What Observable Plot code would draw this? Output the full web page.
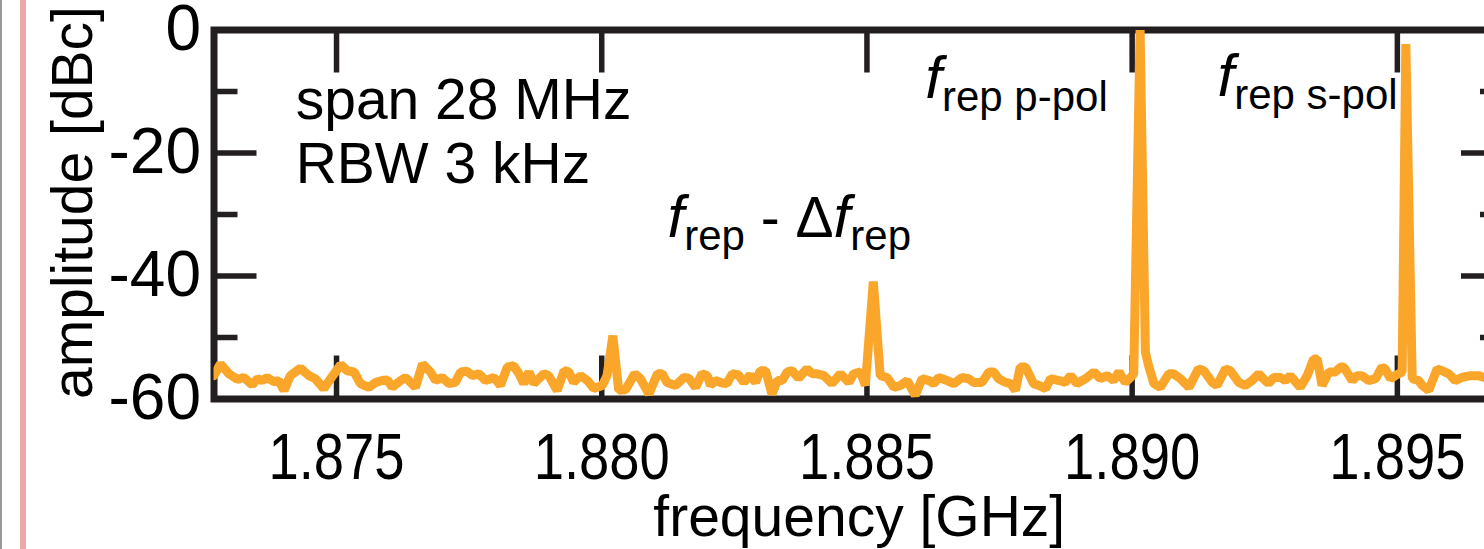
<!DOCTYPE html>
<html><head><meta charset="utf-8">
<script src="https://cdn.jsdelivr.net/npm/d3@7"></script>
<script src="https://cdn.jsdelivr.net/npm/@observablehq/plot@0.6"></script>
<style>
html,body{margin:0;padding:0;background:#fff;overflow:hidden;width:1484px;height:549px;}
#wrap{position:relative;width:1484px;height:549px;overflow:hidden;background:#fff;}
#chart{position:absolute;left:0;top:0;width:1560px;height:549px;}
#chart svg{max-width:none;}
.edge1{position:absolute;left:0;top:0;width:1.5px;height:549px;background:#9a9a9a;}
.edge2{position:absolute;left:20px;top:0;width:6px;height:549px;background:#eca8aa;}
</style></head>
<body><div id="wrap"><div id="chart"></div><div class="edge1"></div><div class="edge2"></div></div>
<script>
// spectrum trace (frequency in GHz, amplitude in dBc)
const freqGHz = [
1.87269,1.87281,1.87297,1.87313,1.87325,1.87341,1.87351,1.87360,1.87369,1.87382,
1.87391,1.87401,1.87413,1.87432,1.87448,1.87460,1.87476,1.87489,1.87508,1.87520,
1.87533,1.87545,1.87561,1.87574,1.87586,1.87596,1.87605,1.87621,1.87630,1.87649,
1.87662,1.87677,1.87687,1.87699,1.87712,1.87724,1.87734,1.87746,1.87756,1.87768,
1.87781,1.87797,1.87809,1.87822,1.87834,1.87844,1.87853,1.87863,1.87872,1.87891,
1.87900,1.87916,1.87929,1.87938,1.87947,1.87960,1.87973,1.87985,1.88001,1.88010,
1.88021,1.88032,1.88045,1.88062,1.88073,1.88089,1.88105,1.88114,1.88123,1.88139,
1.88155,1.88164,1.88177,1.88189,1.88199,1.88205,1.88214,1.88227,1.88236,1.88246,
1.88258,1.88268,1.88280,1.88290,1.88299,1.88309,1.88321,1.88331,1.88340,1.88350,
1.88359,1.88371,1.88387,1.88397,1.88406,1.88419,1.88434,1.88450,1.88466,1.88475,
1.88488,1.88497,1.88512,1.88525,1.88538,1.88551,1.88563,1.88576,1.88591,1.88604,
1.88617,1.88626,1.88635,1.88651,1.88664,1.88679,1.88692,1.88701,1.88717,1.88730,
1.88739,1.88748,1.88761,1.88771,1.88780,1.88789,1.88799,1.88814,1.88824,1.88837,
1.88846,1.88862,1.88874,1.88884,1.88896,1.88912,1.88928,1.88940,1.88953,1.88965,
1.88975,1.88987,1.88997,1.89003,1.89015,1.89025,1.89031,1.89041,1.89053,1.89069,
1.89078,1.89091,1.89107,1.89125,1.89135,1.89151,1.89160,1.89176,1.89185,1.89201,
1.89213,1.89226,1.89239,1.89245,1.89257,1.89267,1.89279,1.89289,1.89298,1.89317,
1.89330,1.89342,1.89349,1.89358,1.89371,1.89383,1.89393,1.89399,1.89415,1.89424,
1.89433,1.89446,1.89459,1.89471,1.89477,1.89487,1.89496,1.89509,1.89516,1.89528,
1.89540,1.89547,1.89559,1.89575,1.89584,1.89597,1.89609,1.89622,1.89638,1.89653,
1.89664,1.89679,1.89694
];
const ampDb = [
-56.2,-54.3,-55.9,-56.8,-56.5,-57.7,-56.7,-57.0,-56.5,-57.2,
-57.0,-58.6,-56.2,-55.0,-56.2,-56.7,-58.3,-56.7,-54.4,-55.4,
-55.6,-57.5,-58.1,-57.3,-57.0,-56.9,-58.1,-57.0,-56.5,-58.1,
-54.3,-55.6,-57.0,-56.5,-57.5,-57.3,-55.6,-55.5,-56.2,-55.9,
-57.0,-56.5,-57.8,-54.8,-54.6,-55.9,-57.5,-55.6,-57.5,-55.9,
-56.2,-58.6,-55.4,-55.6,-57.3,-56.2,-57.0,-58.3,-57.8,-56.2,
-49.7,-58.6,-58.5,-55.9,-56.7,-59.2,-55.9,-55.9,-57.3,-57.8,
-56.5,-56.6,-58.1,-55.9,-56.2,-57.8,-57.0,-57.4,-57.5,-55.9,
-56.1,-57.3,-56.1,-57.3,-55.4,-55.4,-59.2,-57.0,-57.0,-55.6,
-55.4,-56.6,-55.1,-55.9,-55.9,-56.2,-57.5,-55.9,-57.3,-55.9,
-55.6,-57.8,-40.9,-56.2,-56.5,-58.1,-57.8,-57.0,-59.4,-56.7,
-57.0,-57.5,-56.5,-57.0,-57.5,-56.5,-56.7,-57.3,-57.3,-55.6,
-55.6,-56.7,-57.3,-57.5,-58.6,-54.8,-54.8,-57.5,-57.8,-58.3,
-56.7,-57.0,-57.3,-56.2,-57.5,-56.7,-55.6,-56.7,-56.2,-57.0,
-55.6,-57.3,-56.5,-55.9,0,-52.4,-54.6,-57.5,-58.1,-55.9,
-55.9,-56.7,-58.1,-55.1,-55.4,-57.3,-57.8,-55.1,-55.4,-57.3,
-57.8,-57.0,-55.9,-56.5,-57.5,-56.5,-56.5,-57.0,-56.2,-58.1,
-56.2,-53.5,-53.5,-57.8,-55.6,-55.6,-54.8,-54.8,-57.0,-56.2,
-56.2,-57.0,-56.7,-54.8,-55.1,-56.7,-56.2,-55.6,-2.3,-56.7,
-57.0,-57.8,-58.6,-55.1,-55.4,-55.9,-57.0,-56.5,-56.2,-56.2,
-56.5,-56.7,-56.3
];
const xDomain = [1.87269, 1.89702];
const yDomain = [-60, 0];
const xTicks = [1.875, 1.880, 1.885, 1.890, 1.895];
const xTickLabels = ["1.875", "1.880", "1.885", "1.890", "1.895"];
const yMajor = [0, -20, -40, -60];
const yMinor = [-10, -30, -50];
const yTickLabels = ["0", "-20", "-40", "-60"];
const infoLines = [
  {x: 1.87423, y: -14.4, text: "span 28 MHz"},
  {x: 1.87423, y: -24.8, text: "RBW 3 kHz"}
];
// peak labels: [piece, kind] with kind i = italic symbol, s = subscript, n = normal
const peakLabels = [
  {x: 1.88124, y: -33.6, parts: [["f","i"],["rep","s"],[" - \u0394","n"],["f","i"],["rep","s"]]},
  {x: 1.88610, y: -11.0, parts: [["f","i"],["rep p-pol","s"]]},
  {x: 1.89161, y: -10.8, parts: [["f","i"],["rep s-pol","s"]]}
];
const xLabel = "frequency [GHz]";
const yLabel = "amplitude [dBc]";

const spectrum = freqGHz.map((f, i) => ({f, a: ampDb[i]}));

const W = 1560, H = 549;
const mL = 213.5, mT = 29.5, mR = W - 1504, mB = H - 398.5;
const plotW = W - mL - mR, plotH = H - mT - mB;
const ink = "#231f20";
const orange = "#f9a62b";
const majorLen = 43, minorLen = 24, tickW = 5.5;
const FS = 57, TFS = 64;
const FONT = "'Liberation Sans', Arial, Helvetica, sans-serif";

const chart = Plot.plot({
  width: W, height: H,
  marginLeft: mL, marginTop: mT, marginRight: mR, marginBottom: mB,
  x: {domain: xDomain, axis: null},
  y: {domain: yDomain, axis: null},
  style: {fontFamily: FONT, background: "#fff", color: "#000"},
  marks: [
    Plot.ruleX(xTicks, {x: d => d, insetTop: plotH - majorLen, stroke: ink, strokeWidth: tickW}),
    Plot.ruleX(xTicks, {x: d => d, insetBottom: plotH - majorLen, stroke: ink, strokeWidth: tickW}),
    Plot.ruleY(yMajor, {y: d => d, insetRight: plotW - majorLen, stroke: ink, strokeWidth: tickW}),
    Plot.ruleY(yMinor, {y: d => d, insetRight: plotW - minorLen, stroke: ink, strokeWidth: tickW}),
    Plot.ruleY(yMajor, {y: d => d, insetLeft: plotW - majorLen, stroke: ink, strokeWidth: tickW}),
    Plot.ruleY(yMinor, {y: d => d, insetLeft: plotW - minorLen, stroke: ink, strokeWidth: tickW}),
    Plot.frame({stroke: ink, strokeWidth: 7}),
    Plot.text(xTicks, {x: d => d, frameAnchor: "bottom", dy: 79.5, lineAnchor: "bottom", textAnchor: "middle",
      text: (d, i) => xTickLabels[i], fontSize: TFS, fill: "#000"}),
    Plot.text(yMajor, {y: d => d, frameAnchor: "left", dx: -13, textAnchor: "end", lineAnchor: "middle",
      text: (d, i) => yTickLabels[i], fontSize: TFS, fill: "#000"}),
    Plot.text([xLabel], {frameAnchor: "bottom", dy: 136.5, lineAnchor: "bottom", textAnchor: "middle", fontSize: FS, fill: "#000"}),
    Plot.text([yLabel], {frameAnchor: "left", dx: 91 - mL, dy: -12, rotate: -90, textAnchor: "middle", lineAnchor: "bottom", fontSize: FS, fill: "#000"}),
    Plot.text(infoLines, {x: "x", y: "y", text: "text", textAnchor: "start", lineAnchor: "bottom", fontSize: FS, fill: "#000"}),
    Plot.text(peakLabels, {x: "x", y: "y", text: d => d.parts.map(p => p[0]).join(""), textAnchor: "start",
      lineAnchor: "bottom", fontSize: FS, fill: "#000"}),
    Plot.line(spectrum, {x: "f", y: "a", stroke: orange, strokeWidth: 9, strokeLinejoin: "bevel", clip: true})
  ]
});
document.getElementById("chart").appendChild(chart);

// post-process texts: italic symbols + subscripts, narrow tick labels
const subShift = 13;
const joined = peakLabels.map(d => d.parts.map(p => p[0]).join(""));
chart.querySelectorAll("text").forEach(node => {
  const content = node.textContent;
  const k = joined.indexOf(content);
  if (k >= 0) {
    const t = d3.select(node);
    t.text(null);
    let down = false;
    for (const [s, kind] of peakLabels[k].parts) {
      const ts = t.append("tspan").text(s);
      if (kind === "i") ts.attr("font-style", "italic").attr("font-size", 60);
      else if (kind === "s") ts.attr("font-size", 42);
      else ts.attr("font-size", FS);
      if (kind === "s" && !down) { ts.attr("dy", subShift); down = true; }
      else if (kind !== "s" && down) { ts.attr("dy", -subShift); down = false; }
    }
  } else if (xTickLabels.includes(content)) {
    const tr = node.getAttribute("transform") || "";
    node.setAttribute("transform", tr + " scale(0.85,1)");
  }
});
</script>
</body></html>
